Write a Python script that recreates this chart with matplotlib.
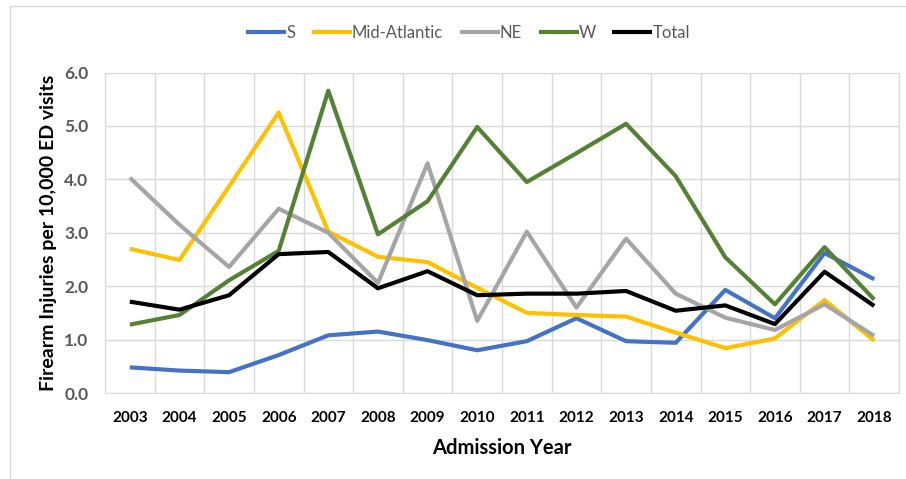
import matplotlib
matplotlib.use("Agg")
import matplotlib.pyplot as plt
from matplotlib.patches import Rectangle

plt.rcParams['font.family'] = ['Lato', 'DejaVu Sans']

## data
years = ["2003", "2004", "2005", "2006", "2007", "2008", "2009", "2010",
         "2011", "2012", "2013", "2014", "2015", "2016", "2017", "2018"]

south = [0.48, 0.42, 0.39, 0.71, 1.08, 1.15, 0.99, 0.80,
         0.97, 1.40, 0.97, 0.94, 1.93, 1.40, 2.62, 2.13]
mid_atlantic = [2.70, 2.49, 3.87, 5.25, 3.02, 2.55, 2.45, 1.97,
                1.50, 1.46, 1.43, 1.13, 0.84, 1.02, 1.74, 0.98]
northeast = [4.03, 3.15, 2.36, 3.45, 3.00, 2.06, 4.30, 1.35,
             3.02, 1.60, 2.89, 1.86, 1.41, 1.18, 1.66, 1.07]
west = [1.28, 1.46, 2.11, 2.66, 5.66, 2.97, 3.59, 4.98,
        3.95, 4.49, 5.04, 4.06, 2.54, 1.66, 2.73, 1.75]
total = [1.71, 1.56, 1.83, 2.60, 2.64, 1.96, 2.28, 1.83,
         1.86, 1.86, 1.91, 1.54, 1.64, 1.29, 2.27, 1.63]

series = [("S", south, "#4472C4"),
          ("Mid-Atlantic", mid_atlantic, "#FFC000"),
          ("NE", northeast, "#A5A5A5"),
          ("W", west, "#548235"),
          ("Total", total, "#000000")]

W, H = 906, 479
fig = plt.figure(figsize=(W / 100, H / 100), dpi=100)
ax = fig.add_axes([105 / W, (H - 393) / H, 794 / W, 320.5 / H])

x = list(range(len(years)))
for name, vals, col in series:
    ax.plot(x, vals, color=col, lw=3, label=name, solid_capstyle='butt')

## Excel-like category axis: gridlines between categories
ax.set_xlim(-0.5, len(years) - 0.5)
ax.set_ylim(0, 6)
ax.set_xticks(x)
ax.set_xticklabels(years, fontsize=11, fontweight='bold')
ax.set_xticks([i - 0.5 for i in range(len(years) + 1)], minor=True)
ax.set_yticks([0, 1, 2, 3, 4, 5, 6])
ax.set_yticklabels(["%.1f" % v for v in [0, 1, 2, 3, 4, 5, 6]],
                   fontsize=12.5, fontweight='bold', color="#595959")
ax.grid(True, which='minor', axis='x', color="#D9D9D9", lw=1)
ax.grid(True, which='major', axis='y', color="#D9D9D9", lw=1)
ax.tick_params(which='both', length=0)
ax.tick_params(axis='x', pad=13)
ax.tick_params(axis='y', pad=12)
for s in ax.spines.values():
    s.set_color("#D9D9D9")
ax.set_axisbelow(True)

ax.set_xlabel("Admission Year", fontsize=14.5, fontweight='bold', labelpad=9)
ax.set_ylabel("Firearm Injuries per 10,000 ED visits", fontsize=14,
              fontweight='bold', labelpad=5)

leg = fig.legend(loc='center', bbox_to_anchor=(468 / W, 1 - 33 / H), ncol=5,
                 frameon=False, fontsize=12, handlelength=2.4,
                 handletextpad=0.0, columnspacing=1.0)
for t in leg.get_texts():
    t.set_color("#595959")

## outer chart border (cropped Excel chart frame)
fig.patches.append(Rectangle((10 / W, -0.1), 1.2, 1.1 - 6 / H,
                             transform=fig.transFigure, fill=False,
                             edgecolor="#D9D9D9", lw=1))

plt.savefig("out.png", dpi=100)
